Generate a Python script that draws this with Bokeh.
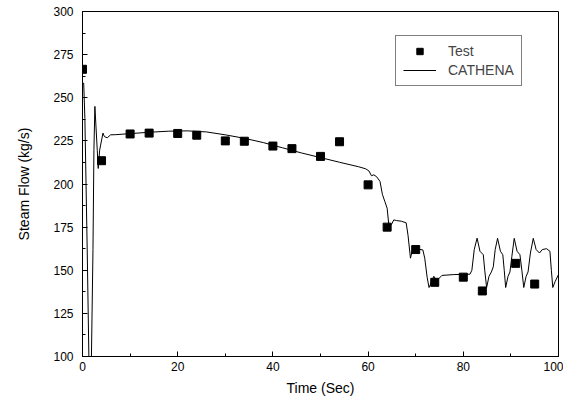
from bokeh.plotting import figure
from bokeh.models import Legend, LegendItem, SingleIntervalTicker, Range1d
from bokeh.embed import file_html
from bokeh.resources import INLINE

# Test data
test_time = [0, 4, 10, 14, 20, 24, 30, 34, 40, 44, 50, 54, 60, 64, 70, 74, 80, 84, 91, 95]
test_flow = [266.5, 213.5, 229, 229.5, 229.3, 228.3, 225, 224.8, 222, 220.5, 216, 224.5,
             199.5, 175, 162, 143, 146, 138, 154, 142]

# CATHENA simulation
cath_time = [0, 0.25, 0.5, 1.0, 1.35, 1.6, 1.85, 2.2, 2.4, 2.6, 3.1, 3.3, 3.6, 4.3, 4.6, 5.2, 5.9,
             7, 10, 14, 18, 22, 26, 30, 34, 38, 42, 46, 50, 54, 58, 59.5, 60.2, 60.7, 61.2,
             61.8, 62.5, 63.0, 63.5, 64.0, 64.4, 64.9, 65.4, 66.0, 67.0, 68.0, 68.4, 68.9,
             69.3, 69.9, 71.5, 71.9, 72.4, 72.8, 73.3, 73.8, 74.3, 74.8, 75.5, 78, 81.4,
             81.8, 82.3, 82.9, 83.5, 84.2, 84.5, 84.9, 85.4, 85.9, 86.3, 86.7, 87.2, 87.8,
             88.3, 88.6, 88.9, 89.4, 89.8, 90.2, 90.7, 91.3, 91.9, 92.3, 92.7, 93.2, 93.6,
             94.1, 94.7, 95.3, 96.0, 96.6, 97.5, 98.2, 98.5, 98.8, 99.3, 100]
cath_flow = [258, 258.5, 238, 160, 98, 85, 95, 162, 220, 245, 219.6, 209, 219.6, 229.5, 227.5,
             226.8, 228.5, 228.6, 229.2, 230, 230.6, 230.8, 230.2, 228.5, 226.5, 224, 221,
             218, 215.3, 212.6, 210, 208.8, 207.5, 204.8, 205.3, 204.2, 201.5, 194, 190, 186,
             175, 176.5, 179.2, 178.8, 178.4, 177.5, 170, 157, 161.5, 162.5, 161.8, 157, 146,
             140, 143, 146.5, 144.5, 145, 147, 147.5, 147.7, 150, 162, 168.6, 161, 159, 150,
             140, 146.5, 149, 152, 162, 168.5, 161, 159, 150, 140, 146.5, 149, 158, 168.5,
             161, 159, 150, 140, 146.5, 149, 160, 168.5, 162, 160, 162, 162.5, 161, 150, 140,
             143.5, 147.5]

FONT = "Liberation Sans"

p = figure(width=563, height=398, output_backend="svg", toolbar_location=None,
           x_range=Range1d(0, 100), y_range=Range1d(100, 300),
           min_border_left=82, min_border_right=5, min_border_top=11, min_border_bottom=41)
p.background_fill_color = "white"
p.border_fill_color = "white"
p.outline_line_color = "black"
p.outline_line_width = 1
p.grid.visible = False

line_r = p.line(cath_time, cath_flow, line_color="black", line_width=1)
sq_r = p.scatter(test_time, test_flow, marker="square", size=8, fill_color="black",
                 line_color="black")

p.xaxis.ticker = SingleIntervalTicker(interval=20, num_minor_ticks=2)
p.yaxis.ticker = SingleIntervalTicker(interval=25, num_minor_ticks=2)
for ax in (p.xaxis[0], p.yaxis[0]):
    ax.major_tick_in = 5
    ax.major_tick_out = 0
    ax.minor_tick_in = 3
    ax.minor_tick_out = 0
    ax.axis_line_color = "black"
    ax.major_tick_line_color = "black"
    ax.minor_tick_line_color = "black"
    ax.major_label_text_font = FONT
    ax.major_label_text_font_size = "12px"
    ax.major_label_text_color = "black"
    ax.axis_label_text_font = FONT
    ax.axis_label_text_font_size = "14px"
    ax.axis_label_text_font_style = "normal"
    ax.axis_label_text_color = "black"
p.xaxis.axis_label = "Time (Sec)"
p.yaxis.axis_label = "Steam Flow (kg/s)"
p.xaxis.major_label_standoff = 5
p.yaxis.major_label_standoff = 9
p.xaxis.axis_label_standoff = 6
p.yaxis.axis_label_standoff = 18

legend = Legend(items=[LegendItem(label="Test", renderers=[sq_r]),
                       LegendItem(label="CATHENA", renderers=[line_r])],
                location=(313, 270), border_line_color="black", border_line_width=1,
                padding=7, spacing=3, glyph_width=33, glyph_height=16, label_standoff=12,
                label_text_font=FONT, label_text_font_size="14px", margin=0,
                background_fill_alpha=1.0)
p.add_layout(legend)

open("out.html", "w").write(file_html(p, INLINE))
